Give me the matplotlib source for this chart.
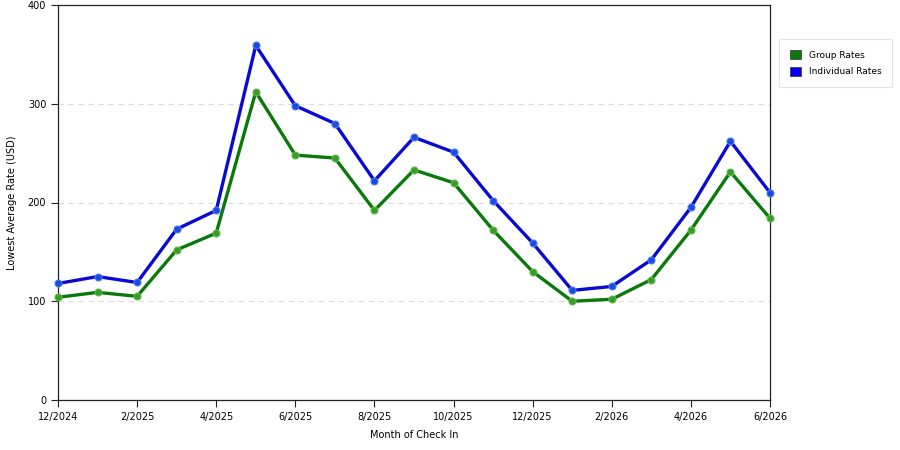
import matplotlib
matplotlib.use("Agg")
import matplotlib.pyplot as plt
from matplotlib.patches import Patch

months = ["12/2024", "1/2025", "2/2025", "3/2025", "4/2025", "5/2025", "6/2025",
          "7/2025", "8/2025", "9/2025", "10/2025", "11/2025", "12/2025", "1/2026",
          "2/2026", "3/2026", "4/2026", "5/2026", "6/2026"]
group_rates = [104, 109, 105, 152, 169, 312, 248, 245, 192, 233, 220, 172, 130,
               100, 102, 122, 172, 231, 184]
individual_rates = [118, 125, 119, 173, 192, 359, 298, 280, 222, 266, 251, 202,
                    159, 111, 115, 142, 195, 262, 210]

fig = plt.figure(figsize=(9, 4.5), dpi=100)
ax = fig.add_axes([58 / 900, 1 - 400 / 450, 712 / 900, 395 / 450])

x = list(range(len(months)))
ax.plot(x, group_rates, color="#0a790a", lw=2.4, marker="o", ms=5,
        mfc="#3a9a2a", mec="#5fb84a", mew=0.8, zorder=3, clip_on=False)
ax.plot(x, individual_rates, color="#0a0ad0", lw=2.4, marker="o", ms=5,
        mfc="#1a4ae0", mec="#4a7af0", mew=0.8, zorder=3, clip_on=False)

ax.set_xlim(0, len(months) - 1)
ax.set_ylim(0, 400)
ax.set_xticks(x[::2])
ax.set_xticklabels(months[::2])
ax.set_yticks([0, 100, 200, 300, 400])
ax.yaxis.grid(True, ls=(0, (5, 4)), color="#dddddd", lw=0.8)
ax.set_axisbelow(True)
ax.tick_params(labelsize=7, length=5, direction="out", color="#222222")
for s in ax.spines.values():
    s.set_color("#222222")
    s.set_linewidth(0.9)

ax.set_xlabel("Month of Check In", fontsize=7, labelpad=6)
ax.set_ylabel("Lowest Average Rate (USD)", fontsize=7, labelpad=8)

handles = [Patch(facecolor="#0a790a", edgecolor="#333333", lw=0.5, label="Group Rates"),
           Patch(facecolor="#0000ee", edgecolor="#333333", lw=0.5, label="Individual Rates")]
leg = fig.legend(handles=handles, loc="upper left", bbox_to_anchor=(779 / 900, 1 - 39 / 450),
                 borderaxespad=0, fontsize=6.5, frameon=True, fancybox=False,
                 handlelength=1.2, handleheight=1.2, borderpad=1.2, labelspacing=0.8,
                 handletextpad=0.9)
leg.get_frame().set_edgecolor("#dddddd")
leg.get_frame().set_linewidth(0.8)

fig.savefig("out.png", dpi=100)
